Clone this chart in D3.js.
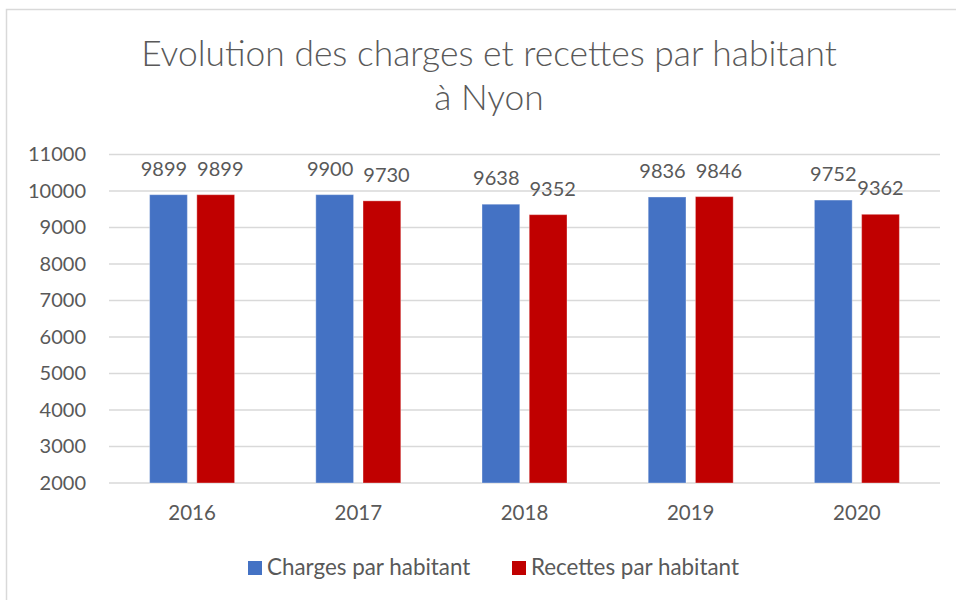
<!DOCTYPE html>
<html>
<head>
<meta charset="utf-8">
<script src="https://cdn.jsdelivr.net/npm/d3@7"></script>
<style>
  body { margin: 0; background: #fff; }
  text { font-family: Lato, "Open Sans", sans-serif; fill: #595959; }
</style>
</head>
<body>
<div id="chart"></div>
<script>
const years = ["2016", "2017", "2018", "2019", "2020"];
const seriesNames = ["Charges par habitant", "Recettes par habitant"];
const charges = [9899, 9900, 9638, 9836, 9752];
const recettes = [9899, 9730, 9352, 9846, 9362];
const yTicks = [2000, 3000, 4000, 5000, 6000, 7000, 8000, 9000, 10000, 11000];
const colors = ["#4472C4", "#C00000"];

const rows = years.map((y, i) => ({ year: y, values: [charges[i], recettes[i]] }));

const W = 956, H = 600;
const plot = { left: 109, right: 940, top: 154.5, bottom: 483 };

const svg = d3.select("#chart").append("svg")
  .attr("width", W).attr("height", H);

// chart frame
svg.append("rect")
  .attr("x", 6.5).attr("y", 9.5)
  .attr("width", 960).attr("height", 600)
  .attr("fill", "none").attr("stroke", "#D9D9D9").attr("stroke-width", 1.5);

// title
const title = svg.append("text")
  .attr("text-anchor", "middle")
  .style("font-size", "35.4px")
  .style("font-weight", 300);
title.append("tspan").attr("x", 489).attr("y", 66).text("Evolution des charges et recettes par habitant");
title.append("tspan").attr("x", 489).attr("y", 110).text("à Nyon");

const x0 = d3.scaleBand().domain(years).range([plot.left, plot.right]).padding(0);
const x1 = d3.scaleBand().domain([0, 1])
  .range([(x0.bandwidth() - 85) / 2, (x0.bandwidth() + 85) / 2])
  .paddingInner(0.2).paddingOuter(0);
const y = d3.scaleLinear().domain([2000, 11000]).range([plot.bottom, plot.top]);

// gridlines
svg.append("g")
  .selectAll("line")
  .data(yTicks)
  .join("line")
  .attr("x1", plot.left).attr("x2", plot.right)
  .attr("y1", d => y(d)).attr("y2", d => y(d))
  .attr("stroke", "#D9D9D9").attr("stroke-width", 1.5);

// y axis labels
const yAxis = svg.append("g")
  .attr("transform", `translate(${plot.left}, 0)`)
  .call(d3.axisLeft(y).tickValues(yTicks).tickSize(0).tickPadding(23).tickFormat(d3.format("d")));
yAxis.select(".domain").remove();
yAxis.selectAll("text").style("font-size", "20px").attr("fill", "#595959")
  .style("font-family", "Lato, 'Open Sans', sans-serif");

// x axis labels
const xAxis = svg.append("g")
  .attr("transform", `translate(0, ${plot.bottom})`)
  .call(d3.axisBottom(x0).tickSize(0).tickPadding(22));
xAxis.select(".domain").remove();
xAxis.selectAll("text").style("font-size", "20.5px").attr("fill", "#595959")
  .style("font-family", "Lato, 'Open Sans', sans-serif");

// bars
const groups = svg.append("g")
  .selectAll("g")
  .data(rows)
  .join("g")
  .attr("transform", d => `translate(${x0(d.year)}, 0)`);

groups.selectAll("rect")
  .data(d => d.values.map((v, i) => ({ v, i })))
  .join("rect")
  .attr("x", d => x1(d.i))
  .attr("y", d => y(d.v))
  .attr("width", x1.bandwidth())
  .attr("height", d => y(2000) - y(d.v))
  .attr("fill", d => colors[d.i])
  .attr("stroke", "#fff").attr("stroke-opacity", 0.35).attr("stroke-width", 1);

// value labels, pushed apart when the two of a year collide
groups.each(function(d) {
  const g = d3.select(this);
  const labels = d.values.map((v, i) => g.append("text")
    .attr("x", x1(i) + x1.bandwidth() / 2)
    .attr("y", y(v) - 19)
    .attr("text-anchor", "middle")
    .style("font-size", "20px")
    .text(v));
  const w = labels.map(l => l.node().getComputedTextLength());
  const dy = Math.abs(y(d.values[0]) - y(d.values[1]));
  const cx = [0, 1].map(i => x1(i) + x1.bandwidth() / 2);
  const gap = (cx[1] - cx[0]) - (w[0] + w[1]) / 2;
  if (dy < 13 && gap < 10) {
    const push = (10 - gap) / 2;
    labels[0].attr("x", cx[0] - push);
    labels[1].attr("x", cx[1] + push);
  }
});

// legend
const legendPos = [248, 512];
const legend = svg.append("g")
  .selectAll("g")
  .data(seriesNames)
  .join("g")
  .attr("transform", (d, i) => `translate(${legendPos[i]}, 561)`);
legend.append("rect").attr("width", 14).attr("height", 14).attr("fill", (d, i) => colors[i]);
legend.append("text").attr("x", 19).attr("y", 14).style("font-size", "22.4px").text(d => d);
</script>
</body>
</html>
